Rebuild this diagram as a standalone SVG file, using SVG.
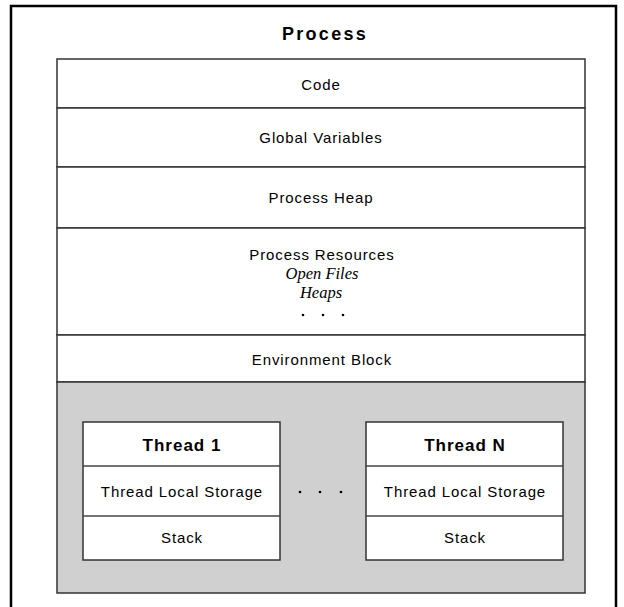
<svg xmlns="http://www.w3.org/2000/svg" width="624" height="607" viewBox="0 0 624 607">
<style>
  .frame { fill: none; stroke: #000; stroke-width: 2.5; }
  .box { fill: #fff; stroke: #333; stroke-width: 1.5; }
  .div { stroke: #444; stroke-width: 1.6; }
  .gray { fill: #d0d0d0; stroke: #333; stroke-width: 1.5; }
  .t { font-family: "Liberation Sans", Arial, sans-serif; font-size: 15px; fill: #000; text-anchor: middle; letter-spacing: 0.9px; }
  .tb { font-family: "Liberation Sans", Arial, sans-serif; font-size: 17px; font-weight: bold; fill: #000; text-anchor: middle; letter-spacing: 1px; }
  .title { font-family: "Liberation Sans", Arial, sans-serif; font-size: 18px; font-weight: bold; fill: #000; text-anchor: middle; letter-spacing: 2.3px; }
  .it { font-family: "Liberation Serif", "Times New Roman", serif; font-size: 16.5px; font-style: italic; fill: #000; text-anchor: middle; }
  .dot { fill: #000; }
</style>
<rect width="624" height="607" fill="#fff"/>
<g id="process">
  <path class="frame" d="M11,607 V6 H616 V607"/>
  <text class="title" x="325" y="40">Process</text>
</g>
<g id="code">
  <rect class="box" x="57" y="59" width="528" height="49"/>
  <text class="t" x="321" y="90">Code</text>
</g>
<g id="global-variables">
  <rect class="box" x="57" y="108" width="528" height="59"/>
  <text class="t" x="321" y="143">Global Variables</text>
</g>
<g id="process-heap">
  <rect class="box" x="57" y="167" width="528" height="61"/>
  <text class="t" x="321" y="203">Process Heap</text>
</g>
<g id="process-resources">
  <rect class="box" x="57" y="228" width="528" height="107"/>
  <text class="t" x="322" y="260">Process Resources</text>
  <text class="it" x="322" y="279">Open Files</text>
  <text class="it" x="321" y="298">Heaps</text>
  <circle class="dot" cx="303" cy="315" r="1.3"/>
  <circle class="dot" cx="323" cy="315" r="1.3"/>
  <circle class="dot" cx="343" cy="315" r="1.3"/>
</g>
<g id="environment-block">
  <rect class="box" x="57" y="335" width="528" height="47"/>
  <text class="t" x="322" y="365">Environment Block</text>
</g>
<g id="threads-area">
  <rect class="gray" x="57" y="382" width="528" height="211"/>
  <circle class="dot" cx="300" cy="492" r="1.3"/>
  <circle class="dot" cx="320" cy="492" r="1.3"/>
  <circle class="dot" cx="341" cy="492" r="1.3"/>
</g>
<g id="thread-1">
  <rect class="box" x="83" y="422" width="197" height="138"/>
  <line class="div" x1="83" y1="466" x2="280" y2="466"/>
  <line class="div" x1="83" y1="516" x2="280" y2="516"/>
  <text class="tb" x="182" y="451">Thread 1</text>
  <text class="t" x="182" y="497">Thread Local Storage</text>
  <text class="t" x="182" y="543">Stack</text>
</g>
<g id="thread-n">
  <rect class="box" x="366" y="422" width="197" height="138"/>
  <line class="div" x1="366" y1="466" x2="563" y2="466"/>
  <line class="div" x1="366" y1="516" x2="563" y2="516"/>
  <text class="tb" x="465" y="451">Thread N</text>
  <text class="t" x="465" y="497">Thread Local Storage</text>
  <text class="t" x="465" y="543">Stack</text>
</g>
<g id="connectors"></g>
</svg>
